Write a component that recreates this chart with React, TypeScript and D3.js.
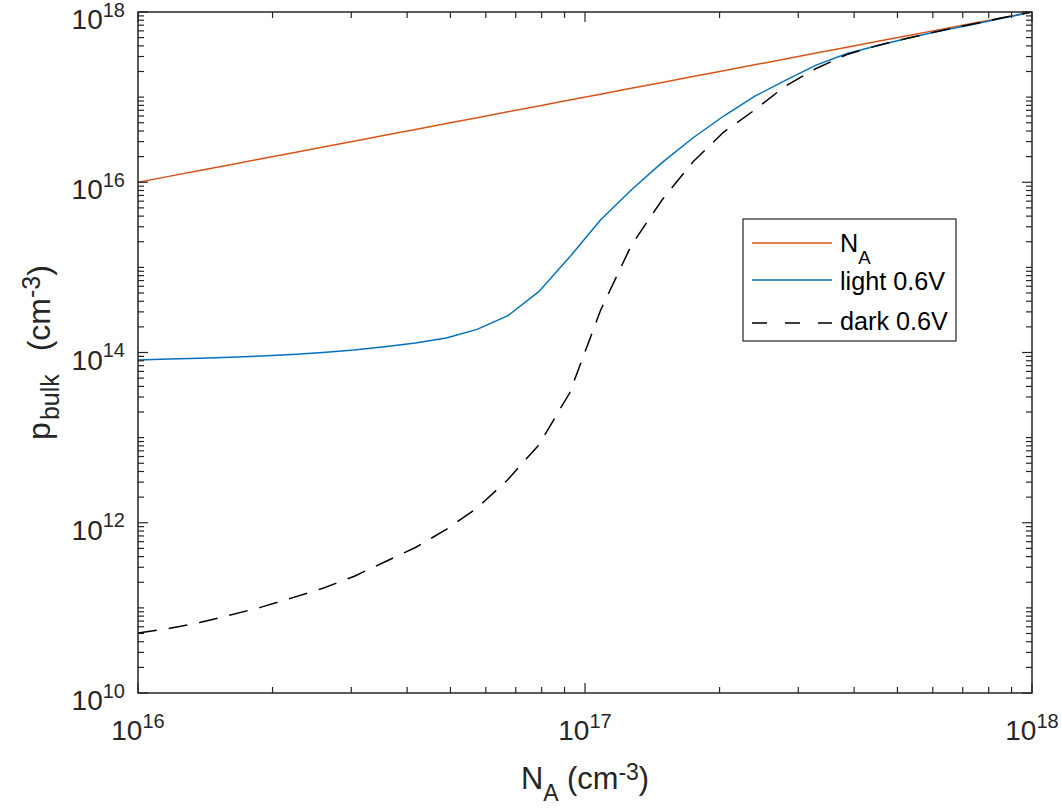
import React, { useEffect, useRef } from 'react';
import * as d3 from 'd3';

// acceptor doping, 30 log-spaced points (cm^-3)
const NA = [
  1.0e16, 1.172e16, 1.374e16, 1.610e16, 1.887e16, 2.212e16, 2.593e16, 3.039e16, 3.562e16, 4.175e16,
  4.894e16, 5.736e16, 6.723e16, 7.881e16, 9.238e16, 1.083e17, 1.269e17, 1.487e17, 1.743e17, 2.043e17,
  2.394e17, 2.807e17, 3.289e17, 3.857e17, 4.521e17, 5.298e17, 6.210e17, 7.280e17, 8.531e17, 1.0e18
];

// bulk hole concentration under illumination, 0.6 V
const lightP = [
  8.17e13, 8.4e13, 8.55e13, 8.8e13, 9.1e13, 9.5e13, 1.0e14, 1.07e14, 1.17e14, 1.29e14,
  1.48e14, 1.87e14, 2.71e14, 5.18e14, 1.32e15, 3.6e15, 8.1e15, 1.70e16, 3.31e16, 6.0e16,
  1.02e17, 1.57e17, 2.38e17, 3.26e17, 4.05e17, 4.96e17, 5.98e17, 7.03e17, 8.39e17, 1.0e18
];

// bulk hole concentration in the dark, 0.6 V
const darkP = [
  5.07e10, 5.73e10, 6.73e10, 8.24e10, 1.02e11, 1.31e11, 1.70e11, 2.34e11, 3.46e11, 5.12e11,
  8.34e11, 1.49e12, 3.22e12, 8.19e12, 3.34e13, 3.11e14, 1.81e15, 6.19e15, 1.73e16, 3.89e16,
  7.03e16, 1.35e17, 2.17e17, 3.17e17, 4.05e17, 4.96e17, 5.98e17, 7.13e17, 8.51e17, 1.0e18
];

const xLabelTicks = [1e16, 1e17, 1e18];
const yLabelTicks = [1e10, 1e12, 1e14, 1e16, 1e18];

const seriesNames = ['N', 'light 0.6V', 'dark 0.6V'];

const FONT = '"Liberation Sans", Arial, Helvetica, sans-serif';
const AXIS = '#262626';

const App = () => {
  const svgRef = useRef(null);

  useEffect(() => {
    const svg = d3.select(svgRef.current);
    svg.selectAll('*').remove();

    const W = 1062, H = 808;
    const margin = { top: 12, right: 30, bottom: 115, left: 138 };
    const x0 = margin.left, x1 = W - margin.right;
    const y0 = H - margin.bottom, y1 = margin.top;

    const x = d3.scaleLog().domain([1e16, 1e18]).range([x0, x1]);
    const y = d3.scaleLog().domain([1e10, 1e18]).range([y0, y1]);

    svg.append('rect').attr('width', W).attr('height', H).attr('fill', 'white');

    const clip = svg.append('defs').append('clipPath').attr('id', 'plotclip');
    clip.append('rect').attr('x', x0).attr('y', y1).attr('width', x1 - x0).attr('height', y0 - y1);

    const g = svg.append('g').attr('clip-path', 'url(#plotclip)');

    const line = d3.line<[number, number]>()
      .x(d => x(d[0]))
      .y(d => y(d[1]));

    // N_A reference line
    g.append('path')
      .datum(NA.map(v => [v, v]))
      .attr('d', line)
      .attr('fill', 'none')
      .attr('stroke', '#D95319')
      .attr('stroke-width', 1.5);

    g.append('path')
      .datum(NA.map((v, i) => [v, lightP[i]]))
      .attr('d', line)
      .attr('fill', 'none')
      .attr('stroke', '#0072BD')
      .attr('stroke-width', 1.5);

    g.append('path')
      .datum(NA.map((v, i) => [v, darkP[i]]))
      .attr('d', line)
      .attr('fill', 'none')
      .attr('stroke', '#000')
      .attr('stroke-width', 1.5)
      .attr('stroke-dasharray', '19,12');

    // ticks (pointing inward, on all four sides)
    const ax = svg.append('g').attr('stroke', AXIS).attr('stroke-width', 1.2);
    const xMajor = new Set(xLabelTicks);
    x.ticks().forEach(t => {
      const px = x(t);
      const len = xMajor.has(t) ? 10 : 6;
      ax.append('line').attr('x1', px).attr('x2', px).attr('y1', y0).attr('y2', y0 - len);
      ax.append('line').attr('x1', px).attr('x2', px).attr('y1', y1).attr('y2', y1 + len);
    });
    const yMajor = new Set(yLabelTicks);
    y.ticks().forEach(t => {
      const py = y(t);
      const len = yMajor.has(t) ? 10 : 6;
      ax.append('line').attr('y1', py).attr('y2', py).attr('x1', x0).attr('x2', x0 + len);
      ax.append('line').attr('y1', py).attr('y2', py).attr('x1', x1).attr('x2', x1 - len);
    });

    // axes box
    svg.append('rect')
      .attr('x', x0).attr('y', y1)
      .attr('width', x1 - x0).attr('height', y0 - y1)
      .attr('fill', 'none')
      .attr('stroke', AXIS)
      .attr('stroke-width', 1.5);

    const exp = (v: number) => String(Math.round(Math.log10(v)));

    // y tick labels
    yLabelTicks.forEach(t => {
      const txt = svg.append('text')
        .attr('x', x0 - 13)
        .attr('y', y(t) + 17)
        .attr('text-anchor', 'end')
        .attr('font-family', FONT)
        .attr('fill', AXIS);
      txt.append('tspan').attr('font-size', 28).text('10');
      txt.append('tspan').attr('font-size', 20).attr('dy', -12.5).text(exp(t));
    });

    // x tick labels
    xLabelTicks.forEach(t => {
      const txt = svg.append('text')
        .attr('x', x(t))
        .attr('y', y0 + 47)
        .attr('text-anchor', 'middle')
        .attr('font-family', FONT)
        .attr('fill', AXIS);
      txt.append('tspan').attr('font-size', 28).text('10');
      txt.append('tspan').attr('font-size', 20).attr('dy', -12.5).text(exp(t));
    });

    // axis titles
    const xt = svg.append('text')
      .attr('x', (x0 + x1) / 2)
      .attr('y', 789)
      .attr('text-anchor', 'middle')
      .attr('font-family', FONT)
      .attr('font-size', 30.8)
      .attr('fill', AXIS);
    xt.append('tspan').text('N');
    xt.append('tspan').attr('font-size', 23).attr('dy', 12).text('A');
    xt.append('tspan').attr('dy', -12).text(' (cm');
    xt.append('tspan').attr('font-size', 23).attr('dy', -9).text('-3');
    xt.append('tspan').attr('dy', 9).text(')');

    const yt = svg.append('text')
      .attr('transform', `translate(50,${(y0 + y1) / 2}) rotate(-90)`)
      .attr('text-anchor', 'middle')
      .attr('font-family', FONT)
      .attr('font-size', 32)
      .attr('fill', AXIS);
    yt.append('tspan').text('p');
    yt.append('tspan').attr('font-size', 25).attr('dx', 2).attr('dy', 9).text('bulk');
    yt.append('tspan').attr('dx', 14).attr('dy', -9).text('  (cm');
    yt.append('tspan').attr('font-size', 25).attr('dy', -10).text('-3');
    yt.append('tspan').attr('dy', 10).text(')');

    // legend
    const lg = svg.append('g').attr('transform', 'translate(743,219)');
    lg.append('rect')
      .attr('width', 213).attr('height', 122)
      .attr('fill', 'white')
      .attr('stroke', AXIS)
      .attr('stroke-width', 1.2);

    const items = [
      { name: seriesNames[0], color: '#D95319', dash: null, ly: 24, ty: 33 },
      { name: seriesNames[1], color: '#0072BD', dash: null, ly: 61, ty: 71 },
      { name: seriesNames[2], color: '#000', dash: '15,18', ly: 104, ty: 111 }
    ];
    items.forEach((it, i) => {
      lg.append('line')
        .attr('x1', 9).attr('x2', 89)
        .attr('y1', it.ly).attr('y2', it.ly)
        .attr('stroke', it.color)
        .attr('stroke-width', 1.5)
        .attr('stroke-dasharray', it.dash);
      const t = lg.append('text')
        .attr('x', 97).attr('y', it.ty)
        .attr('font-family', FONT)
        .attr('font-size', 25.2)
        .attr('fill', '#000');
      t.append('tspan').text(it.name);
      if (i === 0) t.append('tspan').attr('font-size', 18.6).attr('dy', 11.5).text('A');
    });
  }, []);

  return (
    <svg
      ref={svgRef}
      width={1062}
      height={808}
      style={{ position: 'absolute', left: 0, top: 0 }}
    />
  );
};

export default App;
